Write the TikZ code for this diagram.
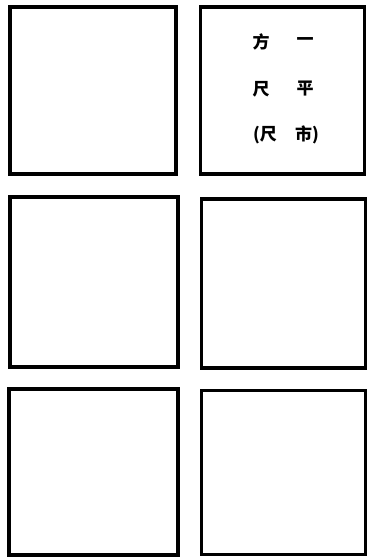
\documentclass[tikz,border=0pt]{standalone}
\usepackage{fontspec}
\newfontfamily\cjk{Noto Sans CJK SC}
\begin{document}
\begin{tikzpicture}[x=1pt,y=1pt,
  box/.style={draw=black, line width=3.1pt, inner sep=0pt, outer sep=0pt},
  zi/.style={inner sep=0pt, font=\cjk\bfseries\fontsize{17}{17}\selectfont}]
\useasboundingbox (0,0) rectangle (368,557);
% top row
\node[box, minimum width=166pt, minimum height=167pt] (tl) at (93,466.5) {};
\node[box, minimum width=164pt, minimum height=167pt] (tr) at (282.5,466.5) {};
% middle row
\node[box, minimum width=168pt, minimum height=170pt] (ml) at (94,275) {};
\node[box, minimum width=164pt, minimum height=169pt] (mr) at (283.5,273.5) {};
% bottom row
\node[box, minimum width=169pt, minimum height=166pt] (bl) at (93.5,85) {};
\node[box, minimum width=164pt, minimum height=164pt] (br) at (283.5,84.5) {};
% text in the top right square
\node[zi] (c1) at (261,515) {方};
\node[zi] (c2) at (305,515) {一};
\node[zi] (c3) at (261,468) {尺};
\node[zi] (c4) at (305,468) {平};
\node[zi, anchor=east] (c5) at (277,422) {(尺};
\node[zi, anchor=west] (c6) at (295,422) {市)};
\end{tikzpicture}
\end{document}
